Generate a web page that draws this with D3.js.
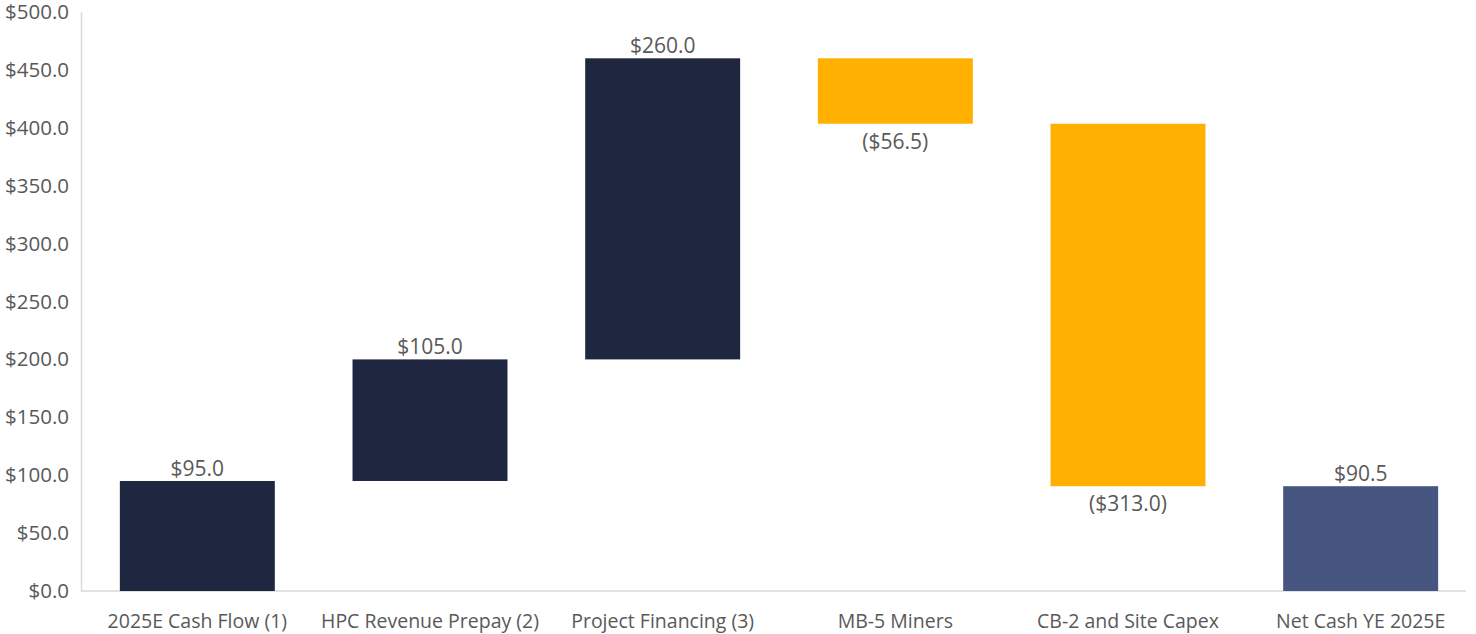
<!DOCTYPE html>
<html>
<head>
<meta charset="utf-8">
<script src="https://cdn.jsdelivr.net/npm/d3@7"></script>
<style>
  body { margin: 0; background: #fff; }
  text { font-family: "Open Sans", "Noto Sans", sans-serif; fill: #595959; }
</style>
</head>
<body>
<div id="chart"></div>
<script>
// waterfall data
let categories = ["2025E Cash Flow (1)", "HPC Revenue Prepay (2)", "Project Financing (3)", "MB-5 Miners", "CB-2 and Site Capex", "Net Cash YE 2025E"];
let changes = [95.0, 105.0, 260.0, -56.5, -313.0, 90.5];
let kinds = ["up", "up", "up", "down", "down", "total"];
let yTicks = [0, 50, 100, 150, 200, 250, 300, 350, 400, 450, 500];

let width = 1476,
height = 634;

let colors = { up: "#1f2740", down: "#ffb000", total: "#475581" };

let svg = d3.select("#chart")
  .append("svg")
  .attr("width", width)
  .attr("height", height);

let x = d3.scaleBand()
  .domain(categories)
  .range([81, 1477])
  .paddingInner(0.334)
  .paddingOuter(0.167);

let y = d3.scaleLinear()
  .domain([0, 500])
  .range([591, 12]);

// build running totals
let bars = [];
let run = 0;
for (let i = 0; i < categories.length; i++) {
  let start, end;
  if (kinds[i] == "total") {
    start = 0; end = changes[i];
  } else {
    start = run; end = run + changes[i];
    run = end;
  }
  bars.push({ cat: categories[i], v: changes[i], kind: kinds[i], lo: Math.min(start, end), hi: Math.max(start, end) });
}

// y axis
let yAxis = svg.append("g")
  .attr("transform", "translate(81,0)")
  .call(d3.axisLeft(y).tickValues(yTicks).tickSize(0).tickPadding(12).tickFormat(d => "$" + d3.format(".1f")(d)));
yAxis.select(".domain").attr("stroke", "#d9d9d9").attr("stroke-width", 1.5);
yAxis.selectAll("text").style("font-size", "20.5px").attr("fill", "#595959");

// baseline
svg.append("line")
  .attr("x1", 81).attr("x2", 1466)
  .attr("y1", y(0)).attr("y2", y(0))
  .attr("stroke", "#d9d9d9")
  .attr("stroke-width", 1.5);

svg.selectAll("rect.bar")
  .data(bars)
  .join("rect")
  .attr("class", "bar")
  .attr("x", d => x(d.cat))
  .attr("width", x.bandwidth())
  .attr("y", d => y(d.hi))
  .attr("height", d => y(d.lo) - y(d.hi))
  .attr("fill", d => colors[d.kind]);

let fmt = d3.format(".1f");
svg.selectAll("text.val")
  .data(bars)
  .join("text")
  .attr("class", "val")
  .attr("x", d => x(d.cat) + x.bandwidth() / 2)
  .attr("y", d => d.v < 0 ? y(d.lo) + 25 : y(d.hi) - 5)
  .attr("text-anchor", "middle")
  .style("font-size", "21px")
  .text(d => d.v < 0 ? "($" + fmt(-d.v) + ")" : "$" + fmt(d.v));

// category labels
svg.selectAll("text.cat")
  .data(categories)
  .join("text")
  .attr("class", "cat")
  .attr("x", d => x(d) + x.bandwidth() / 2)
  .attr("y", 628)
  .attr("text-anchor", "middle")
  .style("font-size", "19.5px")
  .text(d => d);
</script>
</body>
</html>
